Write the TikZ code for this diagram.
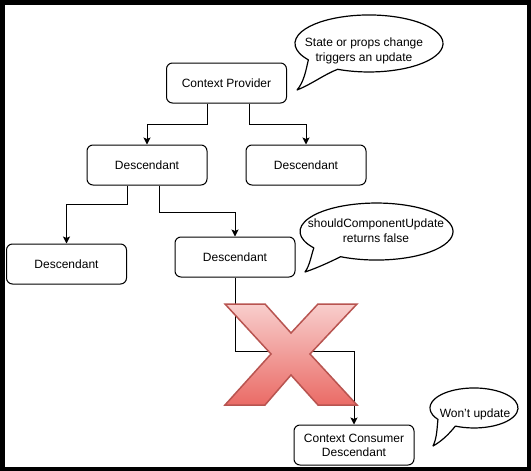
\documentclass[tikz,border=0pt]{standalone}
\usepackage{fontspec}
\setmainfont{Liberation Sans}
\usetikzlibrary{arrows.meta}
\definecolor{xtop}{HTML}{F8CECC}
\definecolor{xbot}{HTML}{EA6B66}
\definecolor{xline}{HTML}{B85450}
\tikzset{
 box/.style={draw, rounded corners=6pt, minimum width=120pt, minimum height=40pt, line width=1pt, align=center, inner sep=0pt, font=\fontsize{12}{14}\selectfont},
 arr/.style={draw, line width=1pt, -{Stealth[length=7pt,width=7pt,inset=1.5pt]}},
 bubble/.style={draw, fill=white, line width=1.2pt, line join=round},
 btext/.style={align=center, inner sep=0pt, font=\fontsize{12}{15}\selectfont},
 bigx/.style={top color=xtop, bottom color=xbot, draw=xline, line width=1.5pt},
}
\begin{document}
\begin{tikzpicture}[x=1pt,y=1pt]
\useasboundingbox (0,0) rectangle (531,-471);
\fill[white] (0,0) rectangle (531,-471);
\draw[line width=4.5pt] (2.25,-2.25) rectangle (528.75,-468.75);

\node[box] (prov) at (226.5,-83) {Context Provider};
\node[box] (d1) at (147,-165) {Descendant};
\node[box] (d2) at (306,-165) {Descendant};
\node[box] (d3) at (66.5,-264) {Descendant};
\node[box] (d4) at (235,-257) {Descendant};
\node[box] (cons) at (354,-445) {Context Consumer\\Descendant};

\draw[arr] ([xshift=-19.5pt]prov.south) -- ++(0,-21) -| (d1.north);
\draw[arr] ([xshift=22.5pt]prov.south) -- ++(0,-21) -| (d2.north);
\draw[arr] ([xshift=-20pt]d1.south) -- ++(0,-19) -| (d3.north);
\draw[arr] ([xshift=12pt]d1.south) -- ++(0,-27) -| (d4.north);
\draw[arr] (d4.south) -- ++(0,-74) -| (cons.north);

\shadedraw[bigx] (225,-304) -- (265,-304) -- (291,-333) -- (318,-304) -- (357,-304) -- (310,-354) -- (357,-405) -- (318,-405) -- (291,-375) -- (265,-405) -- (225,-405) -- (271,-354) -- cycle;

\draw[bubble] (337.7,-69.3) arc[start angle=-115, end angle=215, x radius=74pt, y radius=28.5pt] .. controls (306,-70) and (304,-82) .. (297,-90) .. controls (312,-84) and (325,-74) .. cycle;
\node[btext] (b1) at (364,-50.5) {State or props change\\triggers an update};

\draw[bubble] (340.6,-256.7) arc[start angle=-118, end angle=215, x radius=76.5pt, y radius=28.5pt] .. controls (311,-256) and (310,-265) .. (305,-272) .. controls (317,-268) and (330,-262) .. cycle;
\node[btext] (b2) at (376,-230.5) {shouldComponentUpdate\\returns false};

\draw[bubble] (455.4,-426.1) arc[start angle=-115, end angle=215, x radius=44pt, y radius=20pt] .. controls (437,-428) and (437,-438) .. (433,-446) .. controls (442,-441) and (449,-434) .. cycle;
\node[btext] (b3) at (475,-414) {Won't update};
\end{tikzpicture}
\end{document}
